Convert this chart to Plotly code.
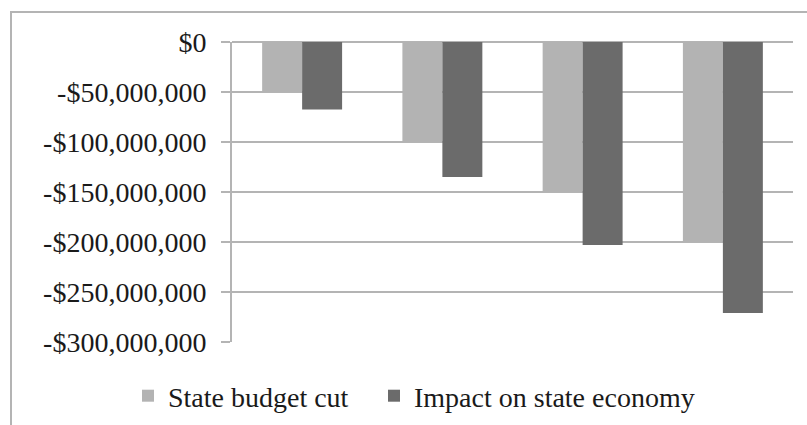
import plotly.graph_objects as go

categories = ["1", "2", "3", "4"]
budget_cut = [-50_000_000, -100_000_000, -150_000_000, -200_000_000]
economy_impact = [-67_500_000, -135_000_000, -203_000_000, -271_000_000]
tick_vals = [0, -50_000_000, -100_000_000, -150_000_000, -200_000_000, -250_000_000, -300_000_000]
tick_text = ["$0", "-$50,000,000", "-$100,000,000", "-$150,000,000",
             "-$200,000,000", "-$250,000,000", "-$300,000,000"]

FONT = "Liberation Serif"
GRID = "#b4b4b4"
FS = 28

fig = go.Figure()
fig.add_trace(go.Bar(x=categories, y=budget_cut, name="State budget cut",
                     marker=dict(color="#b3b3b3", line=dict(width=0)), legend="legend"))
fig.add_trace(go.Bar(x=categories, y=economy_impact, name="Impact on state economy",
                     marker=dict(color="#6b6b6b", line=dict(width=0)), legend="legend2"))

W, H = 807, 425
L, R, T, B = 232, 14, 42, 83
pw, ph = W - L - R, H - T - B

def px_x(x):
    return (x - L) / pw

def px_y(y):
    return (H - B - y) / ph

leg_common = dict(orientation="h", yanchor="middle", xanchor="left",
                  font=dict(family=FONT, size=FS, color="#1a1a1a"),
                  itemwidth=30, itemclick=False, bgcolor="rgba(0,0,0,0)")

fig.update_layout(
    width=W, height=H,
    margin=dict(l=L, r=R, t=T, b=B, pad=0, autoexpand=False),
    paper_bgcolor="white", plot_bgcolor="white",
    barmode="group", bargap=0.43, bargroupgap=0,
    font=dict(family=FONT, size=FS, color="#1a1a1a"),
    showlegend=True,
    legend=dict(x=px_x(128), y=px_y(396), **leg_common),
    legend2=dict(x=px_x(374), y=px_y(396), **leg_common),
    xaxis=dict(showticklabels=False, showgrid=False, zeroline=False, showline=False,
               ticks="", fixedrange=True),
    yaxis=dict(range=[-300_000_000, 0], tickvals=tick_vals, ticktext=tick_text,
               showgrid=True, gridcolor=GRID, gridwidth=2,
               zeroline=True, zerolinecolor=GRID, zerolinewidth=2,
               showline=True, linecolor=GRID, linewidth=2,
               ticks="outside", ticklen=9, tickcolor=GRID, tickwidth=2,
               ticklabelstandoff=9,
               tickfont=dict(family=FONT, size=FS, color="#1a1a1a"),
               fixedrange=True),
    shapes=[dict(type="rect", xref="paper", yref="paper",
                 x0=px_x(11), x1=px_x(830), y0=px_y(450), y1=px_y(12),
                 line=dict(color=GRID, width=2), fillcolor="rgba(0,0,0,0)", layer="below")],
)

fig.write_html("out.html")
